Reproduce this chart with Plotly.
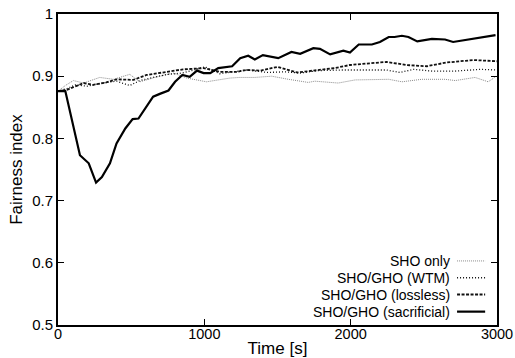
import plotly.graph_objects as go

# ---- data ----
t_sac = [0, 50, 150, 210, 260, 300, 355, 400, 460, 510, 550, 605, 650, 700, 755, 800, 850, 900, 950, 995,
         1040, 1095, 1190, 1245, 1300, 1345, 1400, 1505, 1595, 1655, 1745, 1790, 1860, 1950, 1995, 2055,
         2145, 2200, 2260, 2300, 2350, 2395, 2455, 2555, 2645, 2700, 2780, 2850, 2990]
v_sac = [0.876, 0.876, 0.773, 0.760, 0.729, 0.738, 0.760, 0.792, 0.816, 0.831, 0.832, 0.851, 0.867, 0.872,
         0.877, 0.891, 0.902, 0.899, 0.909, 0.905, 0.905, 0.913, 0.916, 0.929, 0.933, 0.927, 0.934, 0.929,
         0.939, 0.936, 0.945, 0.944, 0.935, 0.941, 0.938, 0.951, 0.951, 0.955, 0.963, 0.963, 0.965, 0.963,
         0.956, 0.960, 0.959, 0.955, 0.958, 0.961, 0.966]

t_loss = [0, 60, 175, 240, 330, 400, 515, 605, 745, 855, 995, 1105, 1220, 1290, 1385, 1500, 1635, 1730,
          1890, 1995, 2130, 2245, 2380, 2520, 2655, 2840, 3000]
v_loss = [0.876, 0.878, 0.889, 0.886, 0.890, 0.895, 0.894, 0.902, 0.907, 0.911, 0.913, 0.907, 0.907, 0.910,
          0.909, 0.915, 0.906, 0.909, 0.913, 0.918, 0.921, 0.923, 0.918, 0.916, 0.922, 0.926, 0.924]

t_wtm = [0, 60, 120, 200, 300, 400, 490, 560, 650, 750, 850, 960, 1005, 1105, 1290, 1430, 1550, 1655, 1775,
         1950, 2110, 2245, 2335, 2430, 2565, 2700, 2885, 3000]
v_wtm = [0.876, 0.880, 0.886, 0.884, 0.889, 0.892, 0.885, 0.893, 0.898, 0.903, 0.905, 0.912, 0.915, 0.904,
         0.910, 0.906, 0.907, 0.905, 0.909, 0.910, 0.910, 0.910, 0.906, 0.911, 0.908, 0.908, 0.911, 0.910]

t_sho = [0, 50, 105, 175, 285, 380, 490, 560, 675, 790, 880, 1015, 1175, 1240, 1345, 1460, 1575, 1710, 1755,
         1915, 2030, 2260, 2350, 2485, 2645, 2715, 2850, 2940, 2990]
v_sho = [0.876, 0.885, 0.893, 0.889, 0.898, 0.895, 0.903, 0.891, 0.899, 0.905, 0.897, 0.891, 0.897, 0.898,
         0.898, 0.900, 0.895, 0.890, 0.892, 0.889, 0.894, 0.895, 0.891, 0.895, 0.895, 0.893, 0.898, 0.891, 0.899]

series_names = ["SHO only", "SHO/GHO (WTM)", "SHO/GHO (lossless)", "SHO/GHO (sacrificial)"]
x_ticks = [0, 1000, 2000, 3000]
y_ticks = [0.5, 0.6, 0.7, 0.8, 0.9, 1]
y_tick_labels = ["0.5", "0.6", "0.7", "0.8", "0.9", "1"]

styles = [
    dict(color="#8a8a8a", width=1, dash="1px,1px"),
    dict(color="#111111", width=1.3, dash="1px,2px"),
    dict(color="#111111", width=1.8, dash="3px,1.5px"),
    dict(color="#000000", width=2.2, dash="solid"),
]
data = [(t_sho, v_sho), (t_wtm, v_wtm), (t_loss, v_loss), (t_sac, v_sac)]

fig = go.Figure()
for (tx, vy), name, st in zip(data, series_names, styles):
    fig.add_trace(go.Scatter(x=tx, y=vy, mode="lines", name=name, line=st, showlegend=False))

# custom gnuplot-style legend (text left, sample right)
leg_y = [0.206, 0.152, 0.098, 0.043]
for name, st, yy in zip(series_names, styles, leg_y):
    fig.add_annotation(x=0.897, y=yy, xref="paper", yref="paper", text=name, showarrow=False,
                       xanchor="right", yanchor="middle", font=dict(size=14, color="black"))
    fig.add_shape(type="line", xref="paper", yref="paper", x0=0.909, x1=0.973, y0=yy, y1=yy,
                  line=st)

axis_common = dict(showgrid=False, zeroline=False, showline=True, linecolor="black", linewidth=2,
                   mirror="allticks", ticks="inside", ticklen=6, tickcolor="black", tickwidth=1,
                   automargin=False)
fig.update_xaxes(range=[0, 3000], tickvals=x_ticks, tickfont=dict(size=14.5, color="black"),
                 ticklabelstandoff=-5,
                 title=dict(text="Time [s]", font=dict(size=17), standoff=4), **axis_common)
fig.update_yaxes(range=[0.5, 1], tickvals=y_ticks, ticktext=y_tick_labels,
                 tickfont=dict(size=15, color="black"),
                 title=dict(text="Fairness index", font=dict(size=17), standoff=5), **axis_common)

fig.update_layout(width=515, height=358, margin=dict(l=58, r=18, t=14, b=33),
                  paper_bgcolor="white", plot_bgcolor="white",
                  font=dict(family="Liberation Sans, Arial, sans-serif", color="black"))
fig.write_html("out.html")
